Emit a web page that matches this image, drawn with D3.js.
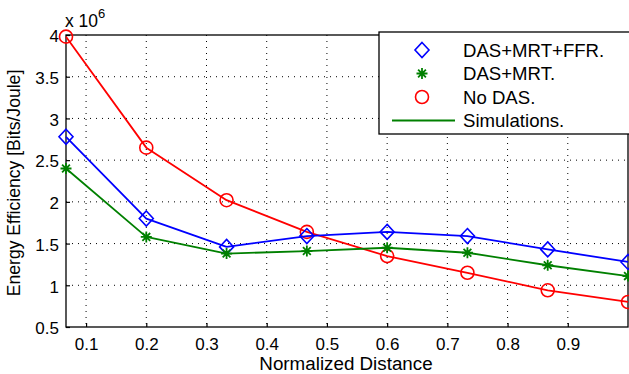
<!DOCTYPE html>
<html>
<head>
<meta charset="utf-8">
<script src="https://cdn.jsdelivr.net/npm/d3@7"></script>
<style>
  body { margin: 0; background: #fff; }
  svg text { font-family: 'Liberation Sans', Arial, Helvetica, sans-serif; fill: #000; }
</style>
</head>
<body>
<svg id="chart" width="629" height="374"></svg>
<script>
// normalized distance (x) and energy efficiency (x 10^6 bits/joule)
const distance = [1 / 15, 0.2, 1 / 3, 7 / 15, 0.6, 11 / 15, 13 / 15, 1];
const dasMrtFfr = [2.78, 1.80, 1.46, 1.59, 1.64, 1.59, 1.43, 1.28];
const dasMrt = [2.40, 1.58, 1.38, 1.41, 1.45, 1.39, 1.24, 1.11];
const noDas = [3.98, 2.65, 2.02, 1.64, 1.35, 1.15, 0.94, 0.80];
const xTicks = [0.1, 0.2, 0.3, 0.4, 0.5, 0.6, 0.7, 0.8, 0.9];
const yTicks = [0.5, 1, 1.5, 2, 2.5, 3, 3.5, 4];
const legendLabels = ['DAS+MRT+FFR.', 'DAS+MRT.', 'No DAS.', 'Simulations.'];

const svg = d3.select('#chart');
const margin = { top: 35, right: 1, bottom: 47, left: 66 };
const width = 629 - margin.left - margin.right;
const height = 374 - margin.top - margin.bottom;

const x = d3.scaleLinear().domain([1 / 15, 1]).range([0, width]);
const y = d3.scaleLinear().domain([0.5, 4]).range([height, 0]);

const g = svg.append('g')
  .attr('transform', 'translate(' + margin.left + ',' + margin.top + ')');

// dotted grid
g.append('g').selectAll('line').data(xTicks).join('line')
  .attr('x1', d => x(d)).attr('x2', d => x(d))
  .attr('y1', 0).attr('y2', height)
  .attr('stroke', '#000').attr('stroke-width', 1).attr('stroke-dasharray', '1,5');
g.append('g').selectAll('line').data(yTicks.slice(1, -1)).join('line')
  .attr('x1', 0).attr('x2', width)
  .attr('y1', d => y(d)).attr('y2', d => y(d))
  .attr('stroke', '#000').attr('stroke-width', 1).attr('stroke-dasharray', '1,5');

// axes with inward ticks
const xAxis = d3.axisBottom(x).tickValues(xTicks).tickSize(-4).tickPadding(11).tickFormat(d3.format('.1f'));
const yAxis = d3.axisLeft(y).tickValues(yTicks).tickSize(-4).tickPadding(7).tickFormat(d => String(d));

g.append('g').attr('transform', 'translate(0,' + height + ')').call(xAxis)
  .call(a => a.select('.domain').remove())
  .call(a => a.selectAll('line').attr('stroke-width', 1.2))
  .selectAll('text').attr('font-size', 17)
  .attr('font-family', "'Liberation Sans', Arial, sans-serif");
g.append('g').call(yAxis)
  .call(a => a.select('.domain').remove())
  .call(a => a.selectAll('line').attr('stroke-width', 1.2))
  .selectAll('text').attr('font-size', 17).attr('dy', '0.4em')
  .attr('font-family', "'Liberation Sans', Arial, sans-serif");

// box
g.append('rect').attr('x', 0).attr('y', 0).attr('width', width).attr('height', height)
  .attr('fill', 'none').attr('stroke', '#000').attr('stroke-width', 1.3);

// series
const series = [
  { values: noDas, color: '#ff0000', marker: 'circle' },
  { values: dasMrtFfr, color: '#0000ff', marker: 'diamond' },
  { values: dasMrt, color: '#008000', marker: 'star' }
];

const line = d3.line()
  .x((d, i) => x(distance[i]))
  .y(d => y(d));

function drawMarker(sel, type, color) {
  if (type === 'circle') {
    sel.append('circle').attr('r', 6.5).attr('fill', 'none')
      .attr('stroke', color).attr('stroke-width', 1.6);
  } else if (type === 'diamond') {
    sel.append('path').attr('d', 'M0,-7.5L7,0L0,7.5L-7,0Z').attr('fill', 'none')
      .attr('stroke', color).attr('stroke-width', 1.6);
  } else {
    sel.append('path')
      .attr('d', 'M0,-5.5V5.5M-5.5,0H5.5M-3.9,-3.9L3.9,3.9M-3.9,3.9L3.9,-3.9')
      .attr('stroke', color).attr('stroke-width', 1.8);
  }
}

series.forEach(s => {
  g.append('path').datum(s.values)
    .attr('d', line).attr('fill', 'none')
    .attr('stroke', s.color).attr('stroke-width', 1.8)
    .attr('stroke-linejoin', 'round');
  g.append('g').selectAll('g').data(s.values).join('g')
    .attr('transform', (d, i) => 'translate(' + x(distance[i]) + ',' + y(d) + ')')
    .each(function () { drawMarker(d3.select(this), s.marker, s.color); });
});

// legend
const legend = svg.append('g').attr('transform', 'translate(379,32)');
legend.append('rect').attr('width', 260).attr('height', 102)
  .attr('fill', '#fff').attr('stroke', '#000').attr('stroke-width', 1.3);
const legendMarkers = ['diamond', 'star', 'circle'];
const legendColors = ['#0000ff', '#008000', '#ff0000', '#008000'];
legendLabels.forEach((label, i) => {
  const row = legend.append('g').attr('transform', 'translate(0,' + (18 + i * 23.5) + ')');
  if (i < 3) {
    drawMarker(row.append('g').attr('transform', 'translate(43,0)'), legendMarkers[i], legendColors[i]);
  } else {
    row.append('line').attr('x1', 13).attr('x2', 76).attr('stroke', legendColors[i]).attr('stroke-width', 1.8);
  }
  row.append('text').attr('x', 84).attr('dy', '0.36em').attr('font-size', 18.6).text(label);
});

// exponent label
const expo = svg.append('text').attr('x', 65).attr('y', 27).attr('font-size', 17.5);
expo.append('tspan').text('x 10');
expo.append('tspan').attr('dy', -9).attr('font-size', 13).text('6');

// axis titles
svg.append('text').attr('x', margin.left + width / 2 - 1).attr('y', 370)
  .attr('text-anchor', 'middle').attr('font-size', 18.8).text('Normalized Distance');
svg.append('text')
  .attr('transform', 'translate(20,' + (margin.top + height / 2 + 2) + ') rotate(-90)')
  .attr('text-anchor', 'middle').attr('font-size', 17.6).text('Energy Efficiency [Bits/Joule]');
</script>
</body>
</html>
